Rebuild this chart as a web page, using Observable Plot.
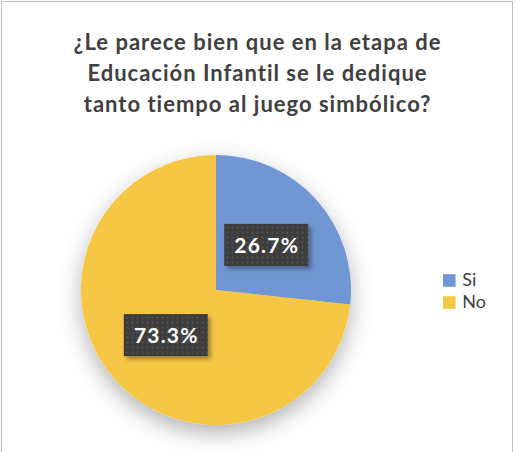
<!DOCTYPE html>
<html><head><meta charset="utf-8">
<script src="https://cdn.jsdelivr.net/npm/d3@7"></script>
<script src="https://cdn.jsdelivr.net/npm/@observablehq/plot@0.6"></script>
<style>
html,body{margin:0;padding:0;background:#fff;}
#chart{position:relative;width:515px;height:452px;overflow:hidden;font-family:Lato,"Open Sans",sans-serif;}
#frame{position:absolute;left:1px;top:1px;width:512px;height:480px;border:1.5px solid #bfbfbf;box-sizing:border-box;}
#title{position:absolute;left:0;width:515px;top:26px;text-align:center;font-weight:bold;font-size:22px;line-height:31px;color:#404040;letter-spacing:1px;}
#pie{position:absolute;left:0;top:0;}
#pie text{letter-spacing:1.2px;}
#legend{position:absolute;left:436px;top:240px;}
svg{overflow:visible;}
</style></head><body>
<div id="chart"><div id="frame"></div><div id="pie"></div><div id="title"></div><div id="legend"></div></div>
<svg width="0" height="0" style="position:absolute">
  <defs>
    <filter id="pieShadow" x="-30%" y="-30%" width="160%" height="170%">
      <feDropShadow dx="0" dy="8" stdDeviation="11" flood-color="#000" flood-opacity="0.3"/>
    </filter>
    <filter id="boxShadow" x="-20%" y="-20%" width="150%" height="160%">
      <feDropShadow dx="3" dy="3" stdDeviation="2" flood-color="#000" flood-opacity="0.35"/>
    </filter>
    <pattern id="dots" width="5" height="5" patternUnits="userSpaceOnUse">
      <rect width="5" height="5" fill="#3d3d3d"/>
      <circle cx="2.5" cy="2.5" r="0.9" fill="#555"/>
    </pattern>
  </defs>
</svg>
<script>
const titleLines = ["¿Le parece bien que en la etapa de", "Educación Infantil se le dedique", "tanto tiempo al juego simbólico?"];
const categories = ["Si", "No"];
const values = [26.7, 73.3];
const valueLabels = ["26.7%", "73.3%"];
const colors = ["#7096d3", "#f6c744"];

document.getElementById("title").innerHTML = titleLines.join("<br>");

const rows = categories.map((c, i) => ({cat: c, value: values[i], label: valueLabels[i]}));
const arcs = d3.pie().sort(null).value(d => d.value)(rows);
const labelData = arcs.map(a => {
  const mid = (a.startAngle + a.endAngle) / 2;
  return {cat: a.data.cat, label: a.data.label, x: 0.5 * Math.sin(mid), y: 0.5 * Math.cos(mid)};
});

const colorFor = c => colors[categories.indexOf(c)];

const pieMark = (index, scales) => {
  const cx = scales.x(0), cy = scales.y(0), r = scales.x(1) - scales.x(0);
  const arc = d3.arc().innerRadius(0).outerRadius(r);
  const g = d3.create("svg:g").attr("filter", "url(#pieShadow)").attr("transform", `translate(${cx},${cy})`);
  g.selectAll("path").data(arcs).join("path")
    .attr("d", arc)
    .attr("fill", d => scales.color ? scales.color(d.data.cat) : colorFor(d.data.cat));
  return g.node();
};

const boxMark = (index, scales) => {
  const g = d3.create("svg:g").attr("filter", "url(#boxShadow)");
  g.selectAll("rect").data(labelData).join("rect")
    .attr("x", d => scales.x(d.x) - 42)
    .attr("y", d => scales.y(d.y) - 21)
    .attr("width", 84).attr("height", 42)
    .attr("fill", "url(#dots)");
  return g.node();
};

const pie = Plot.plot({
  width: 515, height: 452, margin: 0,
  style: {background: "transparent", overflow: "visible"},
  x: {domain: [-1, 1], range: [81, 351], axis: null},
  y: {domain: [-1, 1], range: [425, 155], axis: null},
  color: {domain: categories, range: colors},
  marks: [
    Plot.dot(rows, {x: () => 0, y: () => 0, fill: "cat", r: 0}),
    pieMark,
    boxMark,
    Plot.text(labelData, {x: "x", y: "y", text: "label", fill: "white", fontWeight: "bold", fontSize: 21, fontFamily: "Lato", dy: 1})
  ]
});
document.getElementById("pie").appendChild(pie);

const legend = Plot.plot({
  width: 70, height: 90, margin: 0,
  style: {background: "transparent", overflow: "visible"},
  x: {domain: [0, 1], range: [12.8, 60], axis: null},
  y: {type: "point", domain: categories, range: [28, 73.3], axis: null},
  color: {domain: categories, range: colors},
  marks: [
    Plot.dot(categories, {x: () => 0, y: d => d, fill: d => d, symbol: "square", r: 7.1}),
    Plot.text(categories, {x: () => 0, y: d => d, text: d => d, dx: 13, textAnchor: "start", fontSize: 18, fontFamily: "Lato", fill: "#404040"})
  ]
});
document.getElementById("legend").appendChild(legend);
</script>
</body></html>
